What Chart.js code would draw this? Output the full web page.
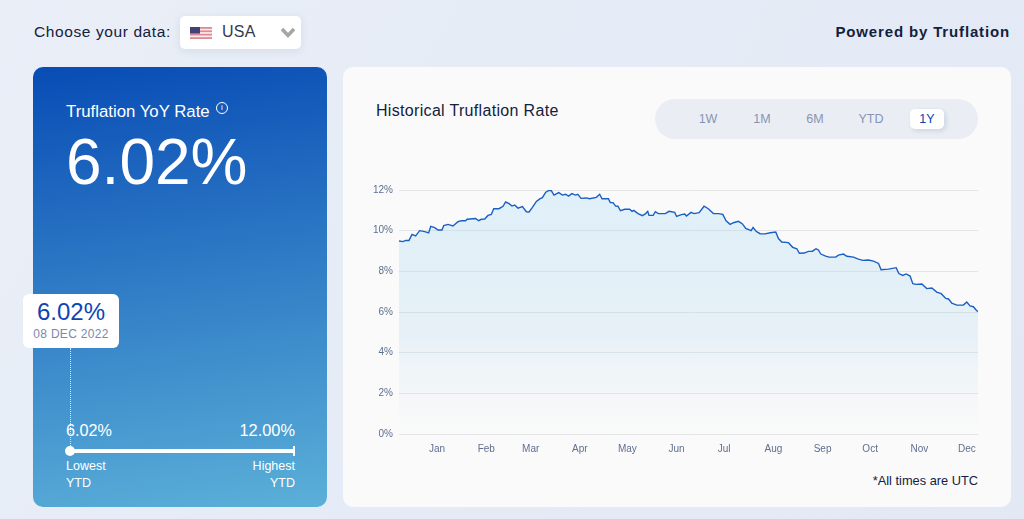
<!DOCTYPE html>
<html>
<head>
<meta charset="utf-8">
<script src="https://cdn.jsdelivr.net/npm/chart.js@4/dist/chart.umd.min.js"></script>
<style>
  html, body { margin: 0; padding: 0; }
  body { width: 1024px; height: 519px; overflow: hidden; position: relative;
    background: linear-gradient(120deg, #e9eef7, #e2e9f5); font-family: "Liberation Sans", Arial, sans-serif; color: #14213d; }
  .abs { position: absolute; white-space: nowrap; }
  .left-card { position: absolute; left: 33px; top: 67px; width: 294px; height: 440px; border-radius: 10px;
    background: linear-gradient(172deg, #084cb5 0%, #5bb0d8 100%); }
  .right-card { position: absolute; left: 343px; top: 67px; width: 668px; height: 440px; border-radius: 10px; background: #fafafa; }
  .select { position: absolute; left: 180px; top: 16px; width: 121px; height: 33px; background: #fff; border-radius: 5px; box-shadow: 0 2px 8px rgba(80,100,150,.12); }
  .pill { position: absolute; left: 655px; top: 99px; width: 323px; height: 40px; border-radius: 20px; background: #eaeef4; }
  .on { position: absolute; left: 910px; top: 109px; width: 34px; height: 20px; border-radius: 5px; background: #fff; box-shadow: 2px 2px 5px rgba(90,110,160,.2); }
  .tab { font-size: 12.5px; line-height: 20px; top: 109px; color: #8795b1; transform: translateX(-50%); }
  .white { color: #fff; }
  .tip { position: absolute; left: 23px; top: 294px; width: 96px; height: 54px; background: #fff; border-radius: 6px; }
  #wrap { position: absolute; left: 360px; top: 175px; width: 630px; height: 285px; }
</style>
</head>
<body>
<div class="left-card"></div>
<div class="right-card"></div>

<div class="abs" style="left:34px;top:22px;font-size:15.5px;line-height:20px;letter-spacing:.6px">Choose your data:</div>
<div class="select"></div>
<svg class="abs" style="left:190px;top:27px" width="22" height="12" viewBox="0 0 22 12">
  <rect width="22" height="12" fill="#fbeaea"/>
  <rect y="0" width="22" height="1.8" fill="#dc8a96"/><rect y="3.4" width="22" height="1.7" fill="#dc8a96"/>
  <rect y="6.8" width="22" height="1.7" fill="#dc8a96"/><rect y="10.2" width="22" height="1.8" fill="#dc8a96"/>
  <rect width="10" height="6.6" fill="#3f4378"/>
</svg>
<div class="abs" style="left:222px;top:22px;font-size:16px;line-height:20px;color:#333b4d;letter-spacing:.3px">USA</div>
<svg class="abs" style="left:280px;top:27px" width="16" height="11" viewBox="0 0 16 11"><path d="M2 2 L8 8.5 L14 2" fill="none" stroke="#a5a5a5" stroke-width="3.4"/></svg>
<div class="abs" style="right:14px;top:22px;font-size:15px;line-height:20px;font-weight:bold;letter-spacing:.85px">Powered by Truflation</div>

<div class="abs white" style="left:66px;top:102px;font-size:16.8px;line-height:20px">Truflation YoY Rate</div>
<div class="abs white" style="left:216px;top:102px;width:10px;height:10px;border:1px solid #fff;border-radius:50%;font-size:8px;line-height:10px;text-align:center">i</div>
<div class="abs white" style="left:66px;top:122px;font-size:64px;line-height:80px">6.02%</div>

<div class="abs" style="left:69.5px;top:348px;height:102px;border-left:1px dotted rgba(255,255,255,.8)"></div>
<div class="tip"></div>
<div class="abs" style="left:23px;width:96px;top:298px;text-align:center;font-size:24px;line-height:28px;color:#0b45b5">6.02%</div>
<div class="abs" style="left:23px;width:96px;top:326px;text-align:center;font-size:12px;line-height:16px;color:#7d88a8;letter-spacing:.3px">08 DEC 2022</div>

<div class="abs white" style="left:66px;top:420px;font-size:16.2px;line-height:20px">6.02%</div>
<div class="abs white" style="right:729px;top:420px;font-size:16.4px;line-height:20px">12.00%</div>
<div class="abs" style="left:66px;top:449px;width:228px;height:4px;background:#fff"></div>
<div class="abs" style="left:65px;top:446px;width:10px;height:10px;border-radius:50%;background:#fff"></div>
<div class="abs" style="left:293px;top:446px;width:2px;height:10px;background:#fff"></div>
<div class="abs white" style="left:66px;top:459px;font-size:12.5px;line-height:15px">Lowest</div>
<div class="abs white" style="left:66px;top:476px;font-size:12.5px;line-height:15px">YTD</div>
<div class="abs white" style="right:729px;top:459px;font-size:12.5px;line-height:15px">Highest</div>
<div class="abs white" style="right:729px;top:476px;font-size:12.5px;line-height:15px">YTD</div>

<div class="abs" style="left:376px;top:101px;font-size:16px;line-height:20px;letter-spacing:.32px">Historical Truflation Rate</div>
<div class="pill"></div>
<div class="on"></div>
<div class="abs tab" style="left:708px">1W</div>
<div class="abs tab" style="left:762px">1M</div>
<div class="abs tab" style="left:815px">6M</div>
<div class="abs tab" style="left:871px">YTD</div>
<div class="abs tab" style="left:927px;color:#0b45b5">1Y</div>

<div id="wrap"><canvas id="rate"></canvas></div>
<div class="abs" style="right:46px;top:472px;font-size:12.8px;line-height:18px">*All times are UTC</div>

<script>
// days since 08 Dec 2021
var days = [0,2.5,4.2,6.3,8.2,10.5,13,16.2,18.7,20,22.5,24.6,27.1,28.2,30.9,34,37.2,39.3,42,42.9,48.3,50.2,51.9,54,56.1,58.2,59.7,63,65.6,67.2,69.4,71.2,72.9,75,77.8,80.3,82,84.1,86.6,88.7,90.4,92.5,94.6,96,97.7,100.7,103,105,106.9,109,111.2,112.7,114.8,118,120.2,124.4,126.5,128,132,133.2,134.9,136.6,138,139.6,142.3,145.4,146.9,148,150.7,153.4,155.5,156.8,157.6,160.2,161.6,163.5,167.9,170.2,173.8,175,178,180.1,181.2,184.1,186,189.2,192.3,195,198.2,201.4,204.1,206.2,208.7,210.8,214,216.5,218.6,222,223.2,225.1,227.6,230.8,234,237.5,239.2,241.3,245.5,248.2,250.8,252.4,255.4,258.1,260.6,262.9,264.4,265.9,269,271.1,275.3,277,280.2,282.3,286.5,289.6,292.4,295.9,299.1,302.3,303.9,308.6,313.4,315.1,317.6,319.7,322.2,323.9,326,329.6,332.7,335.9,339,341.8,344.7,346.4,348.5,351.6,355.8,357.9,360,362.1,363.8,365];
var rates = [9.49,9.46,9.52,9.52,9.82,9.74,10,9.95,9.89,10.21,10.15,10.03,10.03,10.25,10.31,10.23,10.44,10.49,10.49,10.56,10.6,10.49,10.56,10.57,10.75,10.8,11.08,11.08,11.2,11.41,11.33,11.21,11.26,11.11,11.18,10.93,10.92,11.15,11.44,11.56,11.62,11.89,11.98,11.97,11.75,11.87,11.75,11.79,11.7,11.82,11.75,11.79,11.59,11.61,11.57,11.64,11.79,11.57,11.57,11.38,11.38,11.21,11.2,10.98,11.05,11.05,10.95,11,10.84,10.74,10.84,10.95,10.75,10.75,10.93,10.84,10.84,10.95,10.9,10.7,10.79,10.82,10.72,10.9,10.84,10.89,11.2,11.08,10.84,10.84,10.8,10.49,10.31,10.39,10.46,10.33,10.11,10,10.16,9.97,9.85,9.84,9.9,9.93,9.61,9.44,9.41,9.18,9.11,8.89,8.9,8.98,8.99,9.11,9.05,8.85,8.75,8.7,8.7,8.8,8.85,8.74,8.7,8.6,8.54,8.56,8.5,8.39,8.08,8.11,8.18,7.89,7.8,7.87,7.77,7.39,7.36,7.38,7.15,7.18,6.98,6.9,6.67,6.64,6.43,6.34,6.34,6.49,6.3,6.26,6.1,6.02];
var monthLabels = ["Jan","Feb","Mar","Apr","May","Jun","Jul","Aug","Sep","Oct","Nov","Dec"];
var monthDays = [24,55,83,114,144,175,205,236,267,297,328,358];
var rateTicks = [0,2,4,6,8,10,12];

function fillGradient(context) {
  var area = context.chart.chartArea;
  if (!area) return "rgba(190,225,245,.4)";
  var g = context.chart.ctx.createLinearGradient(0, area.top, 0, area.bottom);
  g.addColorStop(0, "rgba(176,222,246,.36)");
  g.addColorStop(.6, "rgba(176,214,238,.26)");
  g.addColorStop(1, "rgba(210,228,244,0)");
  return g;
}

var points = days.map(function (d, i) { return { x: d, y: rates[i] }; });

new Chart(document.getElementById("rate"), {
  type: "line",
  data: { datasets: [{
    data: points,
    borderColor: "#1a5fc4",
    borderWidth: 1.4,
    pointRadius: 0,
    tension: 0,
    fill: "origin",
    backgroundColor: fillGradient
  }] },
  options: {
    responsive: true,
    maintainAspectRatio: false,
    animation: false,
    layout: { padding: { top: 15, right: 12, left: 0, bottom: 0 } },
    plugins: { legend: { display: false }, tooltip: { enabled: false } },
    scales: {
      x: {
        type: "linear", min: 0, max: 365,
        grid: { display: false },
        border: { display: false },
        afterBuildTicks: function (axis) { axis.ticks = monthDays.map(function (v) { return { value: v }; }); },
        afterFit: function (axis) { axis.height = 26; },
        ticks: {
          autoSkip: false, maxRotation: 0, color: "#5f6f90", padding: 1,
          font: { family: "Liberation Sans", size: 10 },
          callback: function (v) { return monthLabels[monthDays.indexOf(v)]; }
        }
      },
      y: {
        min: 0, max: 12,
        grid: { color: "#e2e4e6", lineWidth: 1, drawTicks: false },
        border: { display: false },
        afterBuildTicks: function (axis) { axis.ticks = rateTicks.map(function (v) { return { value: v }; }); },
        afterFit: function (axis) { axis.width = 39; },
        ticks: {
          color: "#5f6f90", padding: 6,
          font: { family: "Liberation Sans", size: 10 },
          callback: function (v) { return v + "%"; }
        }
      }
    }
  }
});
</script>
</body>
</html>
